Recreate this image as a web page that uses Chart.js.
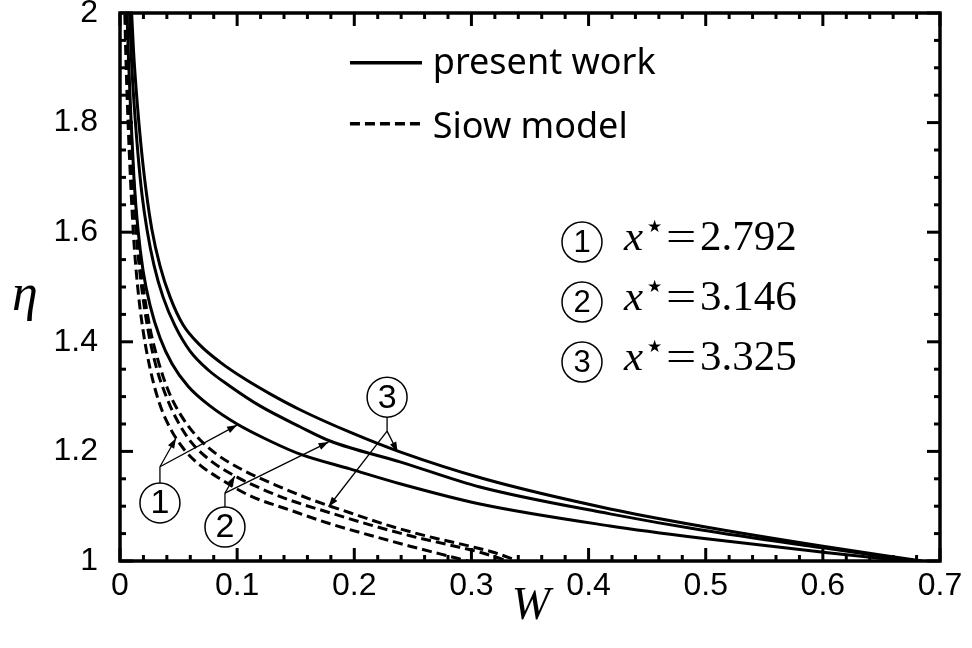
<!DOCTYPE html>
<html>
<head>
<meta charset="utf-8">
<script src="https://cdn.jsdelivr.net/npm/chart.js@4.4.0/dist/chart.umd.min.js"></script>
<style>
  html, body { margin: 0; padding: 0; background: #fff; }
</style>
</head>
<body>
<canvas id="c" width="972" height="648"></canvas>
<script>
// ===== 数据 (读自参考图) =====
const xTicks = [0, 0.1, 0.2, 0.3, 0.4, 0.5, 0.6, 0.7];
const xTickLabels = ['0', '0.1', '0.2', '0.3', '0.4', '0.5', '0.6', '0.7'];
const yTicks = [1, 1.2, 1.4, 1.6, 1.8, 2];
const yTickLabels = ['1', '1.2', '1.4', '1.6', '1.8', '2'];

// present work, x* = 2.792
const presentW1   = [0.0056, 0.0073, 0.0094, 0.0120, 0.0154, 0.0196, 0.0256, 0.0342, 0.0444, 0.0581, 0.0768, 0.0999, 0.128, 0.1537, 0.1963, 0.239, 0.3073, 0.4183, 0.4951, 0.6001, 0.6701];
const presentEta1 = [2.024,  1.914,  1.805,  1.695,  1.604,  1.531,  1.467,  1.407,  1.360,  1.319,  1.283,  1.250,  1.219, 1.195,  1.168,  1.141, 1.104,  1.064,  1.042,  1.016,  1.000];
// present work, x* = 3.146
const presentW2   = [0.0077, 0.0098, 0.0124, 0.0154, 0.0188, 0.0231, 0.0290, 0.0367, 0.0470, 0.0598, 0.0751, 0.0939, 0.1195, 0.1537, 0.1793, 0.239, 0.3073, 0.4183, 0.4951, 0.6001, 0.6804];
const presentEta2 = [2.024,  1.914,  1.823,  1.741,  1.668,  1.604,  1.540,  1.482,  1.429,  1.383,  1.349,  1.319,  1.283,  1.245,  1.219,  1.181, 1.135,  1.086,  1.057,  1.024,  1.000];
// present work, x* = 3.325
const presentW3   = [0.0094, 0.0115, 0.0145, 0.0179, 0.0222, 0.0273, 0.0342, 0.0427, 0.0538, 0.0683, 0.0854, 0.1067, 0.1281, 0.1537, 0.1963, 0.239, 0.3107, 0.4183, 0.4951, 0.6001, 0.6847];
const presentEta3 = [2.024,  1.933,  1.841,  1.759,  1.677,  1.604,  1.538,  1.482,  1.431,  1.394,  1.363,  1.332,  1.305,  1.276,  1.235,  1.199, 1.150,  1.095,  1.064,  1.027,  1.000];

// Siow model
const siowW1   = [0.0038, 0.0051, 0.0068, 0.0090, 0.0115, 0.0149, 0.0196, 0.0256, 0.0333, 0.0427, 0.0546, 0.0683, 0.0854, 0.111, 0.1451, 0.1793, 0.2134, 0.2476, 0.2732, 0.2971];
const siowEta1 = [2.024,  1.914,  1.805,  1.695,  1.595,  1.504,  1.422,  1.352,  1.290,  1.243,  1.204,  1.175,  1.150,  1.119, 1.093,  1.068,  1.047,  1.027,  1.013,  1.000];
const siowW2   = [0.0047, 0.0062, 0.0081, 0.0107, 0.0139, 0.0182, 0.0239, 0.0307, 0.0393, 0.0495, 0.0615, 0.0768, 0.0982, 0.1195, 0.1451, 0.1793, 0.2134, 0.2476, 0.2817, 0.3073, 0.3312];
const siowEta2 = [2.024,  1.914,  1.805,  1.695,  1.595,  1.504,  1.422,  1.356,  1.301,  1.254,  1.215,  1.184,  1.155,  1.133,  1.111,  1.088,  1.066,  1.046,  1.029,  1.016,  1.000];
const siowW3   = [0.0051, 0.0068, 0.0090, 0.0117, 0.0151, 0.0196, 0.0256, 0.0329, 0.0418, 0.0529, 0.0666, 0.0837, 0.1067, 0.1323, 0.1622, 0.1963, 0.2305, 0.2646, 0.2988, 0.3201, 0.3398];
const siowEta3 = [2.024,  1.914,  1.805,  1.695,  1.595,  1.504,  1.425,  1.363,  1.308,  1.263,  1.225,  1.193,  1.164,  1.139,  1.113,  1.088,  1.064,  1.044,  1.027,  1.015,  1.000];

// 图中编号标注 (数据坐标)
const calloutNames  = ['1', '2', '3'];
const calloutCenter = [[0.0341, 1.106], [0.0896, 1.062], [0.228, 1.299]];
const calloutJoint  = [[0.0341, 1.172], [0.0896, 1.124], [0.228, 1.237]];
const calloutTips   = [
  [[0.0478, 1.224], [0.100, 1.248]],
  [[0.098, 1.155], [0.178, 1.217]],
  [[0.237, 1.199], [0.178, 1.099]]
];
const caseNames  = ['1', '2', '3'];
const caseValues = ['2.792', '3.146', '3.325'];

const pts = (w, e) => w.map((v, i) => ({ x: v, y: e[i] }));

function curve(w, e, dashed) {
  return {
    data: pts(w, e),
    borderColor: '#000',
    borderWidth: 3,
    borderDash: dashed ? [10, 5] : [],
    cubicInterpolationMode: 'monotone',
    pointRadius: 0,
    fill: false
  };
}

// ===== 边框、刻度、标注 =====
const decor = {
  id: 'decor',
  afterDatasetsDraw(chart) {
    const { ctx, chartArea: a, scales: { x, y } } = chart;
    const X = v => x.getPixelForValue(v);
    const Y = v => y.getPixelForValue(v);
    ctx.save();
    ctx.strokeStyle = '#000';
    ctx.fillStyle = '#000';
    ctx.lineCap = 'butt';

    // 刻度 (四边朝内)
    ctx.lineWidth = 3;
    const seg = (x1, y1, x2, y2) => { ctx.beginPath(); ctx.moveTo(x1, y1); ctx.lineTo(x2, y2); ctx.stroke(); };
    for (let i = 0; i <= 35; i++) {
      const px = X(i * 0.02);
      const len = i % 5 === 0 ? 13 : 6;
      seg(px, a.bottom, px, a.bottom - len);
      seg(px, a.top, px, a.top + len);
    }
    for (let i = 0; i <= 20; i++) {
      const py = Y(1 + i * 0.05);
      const len = i % 4 === 0 ? 13 : 6;
      seg(a.left, py, a.left + len, py);
      seg(a.right, py, a.right - len, py);
    }
    ctx.lineWidth = 3.5;
    ctx.strokeRect(a.left, a.top, a.right - a.left, a.bottom - a.top);

    // 图例
    ctx.lineWidth = 3.5;
    seg(X(0.1963), Y(1.909), X(0.2578), Y(1.909));
    ctx.setLineDash([10, 5]);
    seg(X(0.1963), Y(1.798), X(0.2578), Y(1.798));
    ctx.setLineDash([]);
    ctx.font = '36px "Noto Sans"';
    ctx.textAlign = 'left';
    ctx.textBaseline = 'alphabetic';
    ctx.fillText('present work', X(0.267), Y(1.909) + 11);
    ctx.fillText('Siow model', X(0.267), Y(1.798) + 14);

    // 编号圆圈 + 箭头
    const R = 20;
    const circled = (cx, cy, label, size) => {
      ctx.lineWidth = 1.5;
      ctx.beginPath();
      ctx.arc(cx, cy, R, 0, Math.PI * 2);
      ctx.stroke();
      ctx.font = size + 'px "Liberation Sans"';
      ctx.textAlign = 'center';
      ctx.textBaseline = 'middle';
      ctx.fillText(label, cx, cy + 1);
    };
    const arrow = (x1, y1, x2, y2) => {
      ctx.lineWidth = 1.3;
      seg(x1, y1, x2, y2);
      const ang = Math.atan2(y2 - y1, x2 - x1);
      ctx.beginPath();
      ctx.moveTo(x2, y2);
      ctx.lineTo(x2 - 10 * Math.cos(ang) + 3.5 * Math.sin(ang), y2 - 10 * Math.sin(ang) - 3.5 * Math.cos(ang));
      ctx.lineTo(x2 - 10 * Math.cos(ang) - 3.5 * Math.sin(ang), y2 - 10 * Math.sin(ang) + 3.5 * Math.cos(ang));
      ctx.closePath();
      ctx.fill();
    };
    calloutNames.forEach((name, i) => {
      const cx = X(calloutCenter[i][0]), cy = Y(calloutCenter[i][1]);
      const jx = X(calloutJoint[i][0]), jy = Y(calloutJoint[i][1]);
      circled(cx, cy, name, 34);
      ctx.lineWidth = 1.3;
      seg(cx, jy > cy ? cy + R : cy - R, jx, jy);
      calloutTips[i].forEach(t => arrow(jx, jy, X(t[0]), Y(t[1])));
    });

    // 右侧 x* 说明
    caseNames.forEach((name, i) => {
      const cy = 242 + i * 60;
      circled(582, cy, name, 31);
      const base = cy + 8;
      ctx.textAlign = 'left';
      ctx.textBaseline = 'alphabetic';
      ctx.font = 'italic 43px "Liberation Serif"';
      ctx.fillText('x', 624, base);
      ctx.font = '17px "DejaVu Sans"';
      ctx.fillText('\u2605', 647, base - 18);
      ctx.font = '43px "Liberation Serif"';
      ctx.save();
      ctx.translate(666, base);
      ctx.scale(1.25, 1);
      ctx.fillText('=', 0, 0);
      ctx.restore();
      ctx.fillText(caseValues[i], 700, base);
    });

    // 坐标轴名称
    ctx.textAlign = 'center';
    ctx.textBaseline = 'middle';
    ctx.font = 'italic 46px "Liberation Serif"';
    ctx.fillText('W', (a.left + a.right) / 2 + 1, a.bottom + 46);
    ctx.font = 'italic 52px "Liberation Serif"';
    ctx.fillText('\u03B7', 25, Y(1.475) - 4);
    ctx.restore();
  }
};

new Chart(document.getElementById('c'), {
  type: 'line',
  data: {
    datasets: [
      curve(presentW1, presentEta1, false),
      curve(presentW2, presentEta2, false),
      curve(presentW3, presentEta3, false),
      curve(siowW1, siowEta1, true),
      curve(siowW2, siowEta2, true),
      curve(siowW3, siowEta3, true)
    ]
  },
  options: {
    responsive: false,
    animation: false,
    devicePixelRatio: 1,
    layout: { padding: { top: 13, right: 32, left: 0, bottom: 0 } },
    plugins: { legend: { display: false }, tooltip: { enabled: false } },
    scales: {
      x: {
        type: 'linear', min: 0, max: 0.7,
        grid: { display: false, drawTicks: false },
        border: { display: false },
        afterBuildTicks: s => { s.ticks = xTicks.map(v => ({ value: v })); },
        afterFit: s => { s.height = 87; s.paddingLeft = 0; s.paddingRight = 0; },
        ticks: {
          autoSkip: false, maxRotation: 0, padding: 6, color: '#000',
          font: { family: '"Liberation Sans", Arial', size: 32 },
          callback: (v, i) => xTickLabels[i]
        }
      },
      y: {
        type: 'linear', min: 1, max: 2,
        grid: { display: false, drawTicks: false },
        border: { display: false },
        afterBuildTicks: s => { s.ticks = yTicks.map(v => ({ value: v })); },
        afterFit: s => { s.width = 120; s.paddingTop = 0; s.paddingBottom = 0; },
        ticks: {
          autoSkip: false, padding: 22, color: '#000',
          font: { family: '"Liberation Sans", Arial', size: 32 },
          callback: (v, i) => yTickLabels[i]
        }
      }
    }
  },
  plugins: [decor]
});
</script>
</body>
</html>
